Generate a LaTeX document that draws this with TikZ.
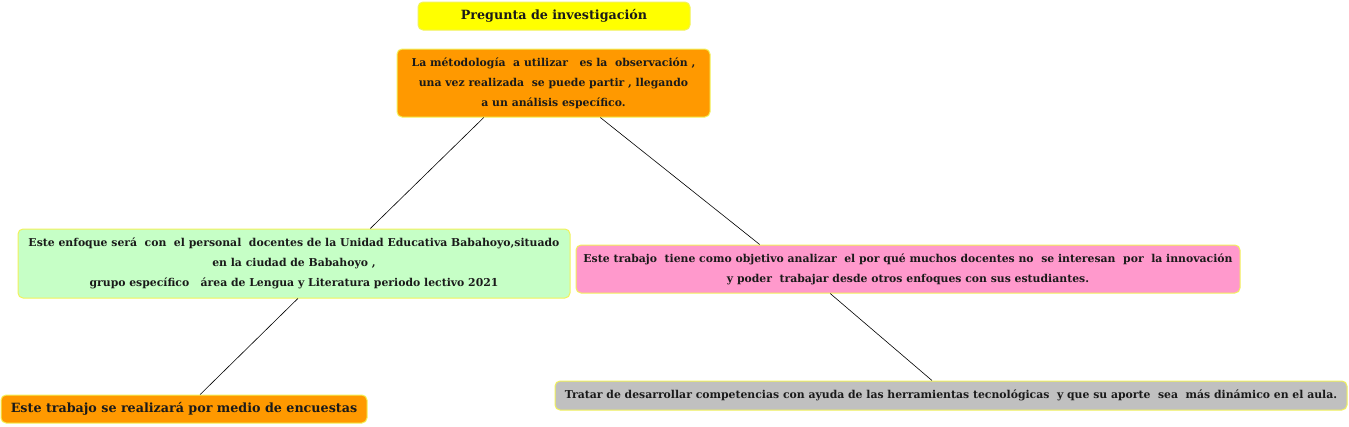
\documentclass[tikz,border=0pt]{standalone}
\usepackage{fontspec}
\setmainfont{DejaVu Serif}
\usepackage{tikz}
\usetikzlibrary{positioning, calc}

\definecolor{amarillo}{HTML}{FFFF00}
\definecolor{naranja}{HTML}{FF9900}
\definecolor{verde}{HTML}{C6FFC6}
\definecolor{rosa}{HTML}{FF99CC}
\definecolor{gris}{HTML}{C0C0C0}
\definecolor{borde}{HTML}{F2F25A}
\definecolor{letra}{HTML}{1A1A1A}

\begin{document}
\begin{tikzpicture}[x=1pt, y=-1pt,
    caja/.style={draw=borde, line width=1pt, rounded corners=5pt, align=center, inner sep=2pt,
                 text=letra, font=\bfseries\fontsize{10.85}{20}\selectfont},
    enlace/.style={draw=black, line width=0.6pt}]
  \useasboundingbox (0,0) rectangle (1349,426);
  % cajas
  \node[caja, fill=amarillo, minimum width=272pt, minimum height=28pt, font=\bfseries\fontsize{12.7}{15}\selectfont] (pregunta) at (554,16) {Pregunta de investigación};
  \node[caja, fill=naranja, minimum width=313pt, minimum height=68pt] (metodo) at (553.5,83) {La métodología \ a utilizar \ \ es la \ observación ,\\ una vez realizada \ se puede partir , llegando\\ a un análisis específico.};
  \node[caja, fill=verde, minimum width=552pt, minimum height=69pt] (enfoque) at (294,263.5) {Este enfoque será \ con \ el personal \ docentes de la Unidad Educativa Babahoyo,situado\\ en la ciudad de Babahoyo ,\\ grupo específico \ \ área de Lengua y Literatura periodo lectivo 2021};
  \node[caja, fill=rosa, minimum width=664pt, minimum height=48pt] (objetivo) at (908,269) {Este trabajo \ tiene como objetivo analizar \ el por qué muchos docentes no \ se interesan \ por \ la innovación\\ y poder \ trabajar desde otros enfoques con sus estudiantes.};
  \node[caja, fill=naranja, minimum width=366pt, minimum height=28pt, font=\bfseries\fontsize{12.7}{15}\selectfont] (encuestas) at (184,409) {Este trabajo se realizará por medio de encuestas};
  \node[caja, fill=gris, minimum width=792pt, minimum height=29pt] (competencias) at (951,395.5) {Tratar de desarrollar competencias con ayuda de las herramientas tecnológicas \ y que su aporte \ sea \ más dinámico en el aula.};
  % enlaces
  \draw[enlace] ($(metodo.south west)!0.278!(metodo.south east)$) -- ($(enfoque.north west)!0.638!(enfoque.north east)$);
  \draw[enlace] ($(metodo.south west)!0.649!(metodo.south east)$) -- ($(objetivo.north west)!0.277!(objetivo.north east)$);
  \draw[enlace] ($(enfoque.south west)!0.507!(enfoque.south east)$) -- ($(encuestas.north west)!0.544!(encuestas.north east)$);
  \draw[enlace] ($(objetivo.south west)!0.383!(objetivo.south east)$) -- ($(competencias.north west)!0.476!(competencias.north east)$);
\end{tikzpicture}
\end{document}
